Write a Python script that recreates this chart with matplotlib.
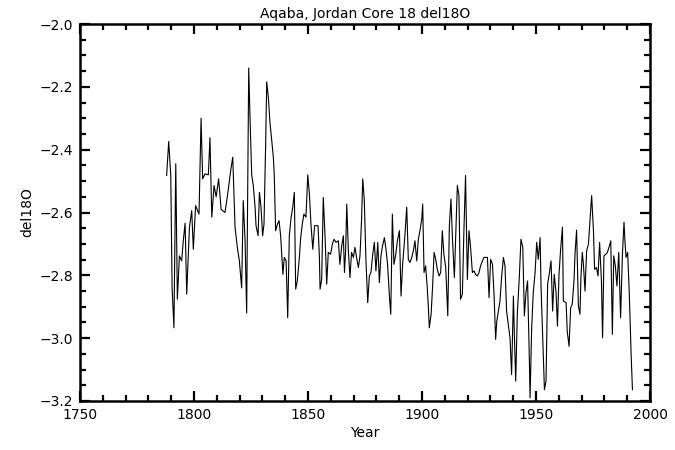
import matplotlib
matplotlib.use("Agg")
import matplotlib.pyplot as plt
from matplotlib.ticker import MultipleLocator

title = "Aqaba, Jordan Core 18 del18O"
xlabel = "Year"
ylabel = "del18O"

years = [
    1788.0, 1788.9, 1789.8, 1790.4, 1791.2, 1792.0, 1792.7, 1793.6, 1794.6, 1795.3,
    1796.1, 1796.8, 1798.0, 1799.0, 1799.7, 1800.7, 1802.2, 1803.1, 1803.8, 1804.8,
    1806.3, 1807.0, 1807.8, 1808.8, 1809.7, 1810.8, 1811.9, 1813.6, 1814.8, 1816.1,
    1817.0, 1818.0, 1819.0, 1819.9, 1820.9, 1821.6, 1822.4, 1823.1, 1824.0, 1824.6,
    1825.3, 1826.0, 1826.8, 1827.2, 1828.1, 1828.7, 1829.4, 1830.1, 1830.7, 1831.4,
    1831.9, 1832.6, 1833.3, 1834.1, 1834.8, 1835.2, 1835.8, 1836.6, 1837.3, 1838.0,
    1838.5, 1839.0, 1839.6, 1840.4, 1841.1, 1841.8, 1842.6, 1843.3, 1844.0, 1844.6,
    1845.3, 1846.1, 1846.8, 1847.5, 1848.2, 1849.1, 1849.9, 1850.6, 1851.3, 1852.1,
    1852.9, 1854.4, 1855.0, 1855.3, 1856.0, 1856.7, 1857.5, 1858.2, 1858.9, 1859.9,
    1860.7, 1861.4, 1862.3, 1863.3, 1864.0, 1864.8, 1865.5, 1866.0, 1866.5, 1867.0,
    1867.7, 1868.4, 1869.1, 1869.9, 1870.6, 1871.3, 1872.1, 1872.8, 1873.5, 1874.0,
    1874.7, 1875.4, 1876.2, 1876.9, 1877.6, 1878.4, 1879.1, 1879.8, 1880.6, 1881.3,
    1882.0, 1882.7, 1883.5, 1884.2, 1884.9, 1885.7, 1886.3, 1887.0, 1887.7, 1888.5,
    1889.2, 1890.1, 1890.8, 1891.5, 1892.5, 1893.3, 1894.0, 1894.7, 1895.5, 1896.2,
    1896.9, 1897.7, 1898.4, 1899.1, 1899.9, 1900.3, 1900.9, 1901.6, 1902.3, 1902.8,
    1903.2, 1904.0, 1904.7, 1905.3, 1906.0, 1906.7, 1907.5, 1908.2, 1908.9, 1909.6,
    1910.4, 1911.3, 1912.0, 1912.7, 1913.4, 1914.2, 1914.9, 1915.5, 1916.2, 1916.9,
    1917.7, 1918.4, 1919.1, 1919.9, 1920.6, 1921.3, 1922.1, 1922.8, 1923.5, 1924.3,
    1925.0, 1925.7, 1926.5, 1927.2, 1928.7, 1929.4, 1930.1, 1930.9, 1931.6, 1932.3,
    1932.8, 1933.5, 1934.2, 1934.9, 1935.7, 1936.4, 1937.1, 1938.6, 1939.3, 1940.1,
    1940.5, 1941.1, 1941.8, 1942.7, 1943.4, 1944.2, 1944.9, 1945.6, 1946.3, 1947.1,
    1947.4, 1948.1, 1948.8, 1949.6, 1950.3, 1951.0, 1951.8, 1952.2, 1952.9, 1953.7,
    1954.4, 1955.1, 1955.9, 1956.6, 1957.3, 1958.0, 1958.8, 1959.4, 1960.1, 1960.8,
    1961.6, 1962.0, 1963.2, 1963.7, 1964.5, 1965.2, 1965.9, 1966.7, 1967.1, 1967.8,
    1968.6, 1969.3, 1969.7, 1970.3, 1970.8, 1971.5, 1972.2, 1973.0, 1973.7, 1974.4,
    1975.2, 1975.7, 1976.5, 1977.2, 1977.9, 1978.7, 1979.2, 1979.8, 1980.6, 1981.3,
    1982.0, 1982.8, 1983.5, 1984.1, 1984.8, 1985.5, 1986.3, 1987.1, 1987.9, 1988.6,
    1989.0, 1989.5, 1990.2, 1990.9, 1991.7, 1992.3,
]

del18o = [
    -2.482, -2.374, -2.480, -2.840, -2.967, -2.445, -2.876, -2.738, -2.754, -2.690,
    -2.634, -2.860, -2.647, -2.594, -2.717, -2.578, -2.605, -2.300, -2.493, -2.477,
    -2.480, -2.362, -2.615, -2.514, -2.550, -2.493, -2.590, -2.600, -2.540, -2.466,
    -2.424, -2.647, -2.711, -2.754, -2.840, -2.562, -2.690, -2.920, -2.140, -2.307,
    -2.480, -2.514, -2.584, -2.642, -2.674, -2.536, -2.584, -2.674, -2.637, -2.392,
    -2.184, -2.232, -2.312, -2.370, -2.424, -2.480, -2.658, -2.637, -2.626, -2.674,
    -2.733, -2.797, -2.743, -2.754, -2.935, -2.674, -2.615, -2.584, -2.536, -2.844,
    -2.818, -2.754, -2.680, -2.637, -2.605, -2.615, -2.480, -2.540, -2.637, -2.717,
    -2.642, -2.642, -2.743, -2.844, -2.813, -2.552, -2.680, -2.828, -2.727, -2.733,
    -2.701, -2.685, -2.695, -2.690, -2.765, -2.706, -2.674, -2.791, -2.722, -2.573,
    -2.722, -2.807, -2.727, -2.743, -2.711, -2.743, -2.775, -2.738, -2.621, -2.493,
    -2.562, -2.749, -2.887, -2.802, -2.791, -2.733, -2.695, -2.786, -2.695, -2.823,
    -2.738, -2.706, -2.680, -2.717, -2.765, -2.866, -2.924, -2.605, -2.765, -2.733,
    -2.690, -2.658, -2.866, -2.765, -2.674, -2.583, -2.749, -2.759, -2.743, -2.722,
    -2.690, -2.754, -2.685, -2.658, -2.621, -2.573, -2.791, -2.770, -2.839, -2.903,
    -2.967, -2.924, -2.828, -2.727, -2.749, -2.781, -2.802, -2.791, -2.658, -2.733,
    -2.775, -2.929, -2.642, -2.557, -2.690, -2.807, -2.647, -2.514, -2.546, -2.876,
    -2.860, -2.653, -2.482, -2.813, -2.658, -2.711, -2.791, -2.786, -2.797, -2.802,
    -2.791, -2.770, -2.754, -2.743, -2.743, -2.871, -2.749, -2.765, -2.860, -3.004,
    -2.946, -2.914, -2.882, -2.807, -2.743, -2.770, -2.914, -2.999, -3.116, -2.866,
    -2.988, -3.137, -2.924, -2.802, -2.685, -2.711, -2.929, -2.855, -2.818, -3.073,
    -3.190, -2.967, -2.855, -2.791, -2.695, -2.749, -2.680, -2.834, -2.988, -3.164,
    -3.137, -2.828, -2.791, -2.754, -2.914, -2.797, -2.855, -2.962, -2.797, -2.717,
    -2.647, -2.882, -2.887, -2.978, -3.026, -2.903, -2.892, -2.813, -2.733, -2.656,
    -2.898, -2.924, -2.807, -2.727, -2.765, -2.850, -2.722, -2.701, -2.626, -2.546,
    -2.658, -2.781, -2.775, -2.802, -2.695, -2.818, -2.999, -2.738, -2.733, -2.727,
    -2.711, -2.690, -2.988, -2.738, -2.770, -2.834, -2.727, -2.935, -2.733, -2.631,
    -2.690, -2.743, -2.727, -2.855, -3.047, -3.164,
]

plt.rcParams['font.family'] = ['DejaVu Sans']
fig = plt.figure(figsize=(6.75, 4.5), dpi=100)
ax = fig.add_axes([80/675, 1 - 401/450, 570/675, 377/450])
ax.plot(years, del18o, color='black', linewidth=0.8)

ax.set_xlim(1750, 2000)
ax.set_ylim(-3.2, -2.0)
ax.xaxis.set_major_locator(MultipleLocator(50))
ax.xaxis.set_minor_locator(MultipleLocator(10))
ax.yaxis.set_major_locator(MultipleLocator(0.2))
ax.yaxis.set_minor_locator(MultipleLocator(0.05))
ax.yaxis.set_major_formatter(matplotlib.ticker.FuncFormatter(lambda v, p: f"{v:.1f}".replace('-', '\u2212')))

ax.tick_params(which='both', direction='in', top=True, right=True, width=1.6,
               labelsize=10, colors='black')
ax.tick_params(which='major', length=7, pad=5)
ax.tick_params(which='minor', length=4)
for s in ax.spines.values():
    s.set_linewidth(1.8)

ax.set_title(title, fontsize=10, pad=4)
ax.set_xlabel(xlabel, fontsize=10, labelpad=3)
ax.set_ylabel(ylabel, fontsize=10, labelpad=3.5)

fig.savefig("out.png", dpi=100)
